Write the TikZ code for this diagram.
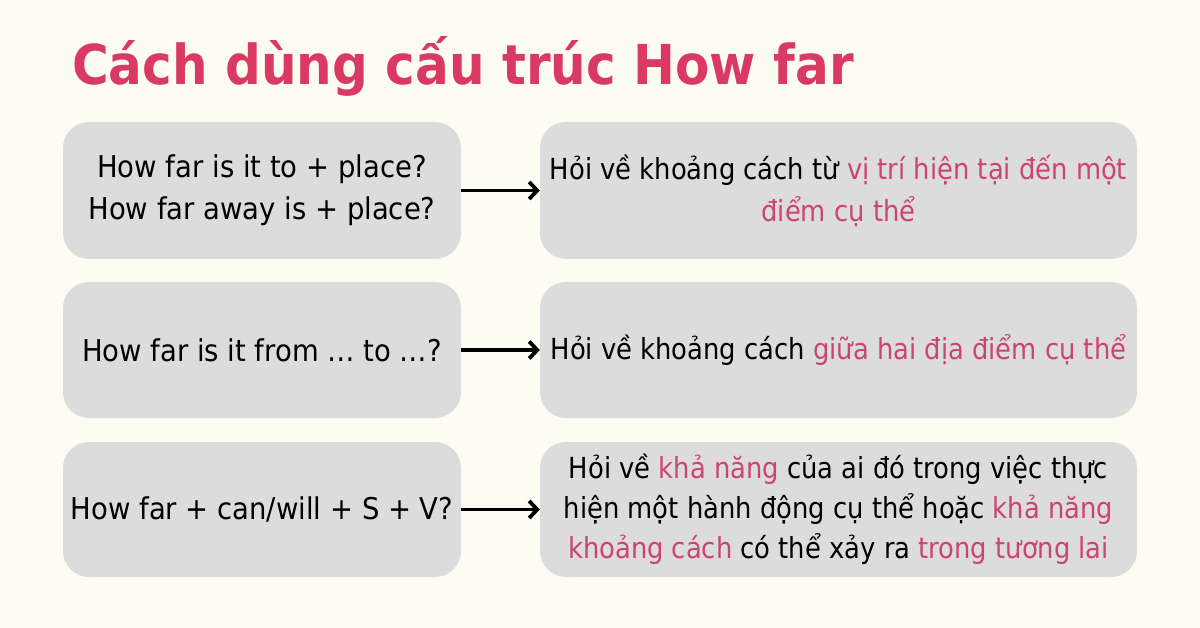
\documentclass[tikz,border=0pt]{standalone}
\usepackage{fontspec}
\setmainfont{DejaVu Sans}[FakeStretch=0.9]
\newfontfamily\leftfont{DejaVu Sans}[FakeStretch=0.915]
\newfontfamily\rightfont{DejaVu Sans}[FakeStretch=0.89]
\newfontfamily\titlefont{DejaVu Sans}[FakeStretch=0.91]
\usetikzlibrary{arrows.meta}
\definecolor{bg}{HTML}{FDFCF2}
\definecolor{boxgray}{HTML}{DCDCDC}
\definecolor{titlepink}{HTML}{DA3A62}
\definecolor{hl}{HTML}{CC4470}
\newcommand{\hlt}[1]{\textcolor{hl}{#1}}
\begin{document}
\begin{tikzpicture}[x=1pt,y=-1pt,
  box/.style={fill=boxgray, draw=none, rounded corners=26pt, inner sep=0pt, align=center},
  leftbox/.style={box, minimum width=398pt, font=\leftfont\fontsize{30}{42}\selectfont},
  rightbox/.style={box, minimum width=597pt, font=\rightfont\fontsize{29}{42}\selectfont},
  arr/.style={line width=3.8pt, -{Straight Barb[length=8pt,width=17pt]}}]
\fill[bg] (0,0) rectangle (1200,628);
\useasboundingbox (0,0) rectangle (1200,628);
\node[anchor=base west, inner sep=0pt, text=titlepink, font=\titlefont\fontsize{55}{60}\selectfont\bfseries] (title) at (72,85) {Cách dùng cấu trúc How far};
% left boxes
\node[leftbox, minimum height=137pt] (l1) at (262,190.5) {How far is it to + place?\\How far away is + place?};
\node[leftbox, minimum height=136pt] (l2) at (262,350) {How far is it from … to …?};
\node[leftbox, minimum height=135pt] (l3) at (262,509.5) {How far + can/will + S + V?};
% right boxes
\node[rightbox, minimum height=137pt] (r1) at (838.5,190.5) {Hỏi về khoảng cách từ \hlt{vị trí hiện tại đến một}\\\hlt{điểm cụ thể}};
\node[rightbox, minimum height=136pt] (r2) at (838.5,350) {Hỏi về khoảng cách \hlt{giữa hai địa điểm cụ thể}};
\node[rightbox, minimum height=135pt, font=\rightfont\fontsize{29}{40}\selectfont] (r3) at (838.5,509.5) {Hỏi về \hlt{khả năng} của ai đó trong việc thực\\hiện một hành động cụ thể hoặc \hlt{khả năng}\\\hlt{khoảng cách} có thể xảy ra \hlt{trong tương lai}};
% arrows
\draw[arr] (l1.east) -- (r1.west);
\draw[arr] (l2.east) -- (r2.west);
\draw[arr] (l3.east) -- (r3.west);
\end{tikzpicture}
\end{document}
